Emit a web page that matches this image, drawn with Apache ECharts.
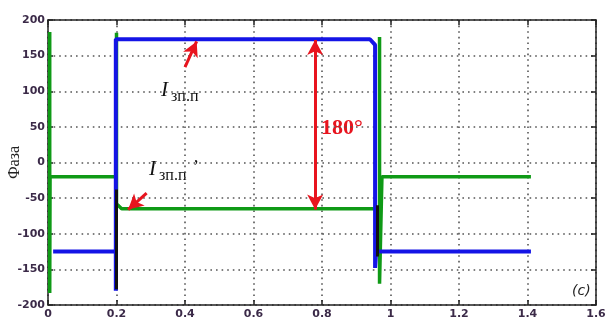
<!DOCTYPE html>
<html><head><meta charset="utf-8">
<script src="https://cdn.jsdelivr.net/npm/echarts@6/dist/echarts.min.js"></script>
<style>html,body{margin:0;padding:0;background:#fff}#c{width:608px;height:324px}</style>
</head><body><div id="c"></div>
<script>
// ---- data ----
var xTicks = ['0','0.2','0.4','0.6','0.8','1','1.2','1.4','1.6'];
var yTicks = ['-200','-150','-100','-50','0','50','100','150','200'];
// green phase (I'зп.п)
var greenT = [0.005, 0.005, 0.006, 0.2, 0.2, 0.2, 0.215, 0.968, 0.968, 0.968, 0.975, 1.41];
var greenV = [183, -183, -20, -20, 182, -58, -65, -65, 176, -170, -20, -20];
// blue phase (Iзп.п)
var blueT = [0.015, 0.198, 0.198, 0.198, 0.94, 0.955, 0.955, 0.958, 1.41];
var blueV = [-125, -125, -180, 173, 173, 165, -148, -125, -125];
// dark transient overlaps
var darkT = [0.2, 0.2, null, 0.962, 0.962];
var darkV = [-38, -178, null, -60, -132];

function pairs(t, v) { return t.map(function (x, i) { return x === null ? '-' : [x, v[i]]; }); }

var chart = echarts.init(document.getElementById('c'));
var tickFont = { fontFamily: 'DejaVu Sans', fontWeight: 'bold', fontSize: 11, color: '#3b2a48' };
var dotted = { show: true, lineStyle: { color: '#555', width: 1.6, type: [1.6, 4] } };
var red = '#e8141e';

chart.setOption({
  animation: false,
  backgroundColor: '#fff',
  grid: { left: 48, right: 12, top: 20, bottom: 19, containLabel: false, outerBoundsMode: 'none' },
  xAxis: [{
    type: 'value', min: 0, max: 1.6, interval: 0.2,
    axisLine: { onZero: false, lineStyle: { color: '#222', width: 1.5 } },
    axisTick: { inside: true, length: 5, lineStyle: { color: '#222', width: 1.5 } },
    axisLabel: Object.assign({ margin: 4, formatter: function (v) { return xTicks[Math.round(v / 0.2)]; } }, tickFont),
    splitLine: dotted
  }, {
    type: 'value', min: 0, max: 1.6, interval: 0.2, position: 'top',
    axisLine: { onZero: false, lineStyle: { color: '#222', width: 1.5 } },
    axisTick: { inside: true, length: 5, lineStyle: { color: '#222', width: 1.5 } },
    axisLabel: { show: false }, splitLine: { show: false }
  }],
  yAxis: [{
    type: 'value', min: -200, max: 200, interval: 50,
    name: 'Фаза', nameLocation: 'middle', nameGap: 25, nameRotate: 90, nameMoveOverlap: false,
    nameTextStyle: { fontFamily: 'Liberation Serif', fontSize: 16, color: '#222' },
    axisLine: { onZero: false, lineStyle: { color: '#222', width: 1.5 } },
    axisTick: { inside: true, length: 5, lineStyle: { color: '#222', width: 1.5 } },
    axisLabel: Object.assign({ margin: 3, formatter: function (v) { return yTicks[Math.round((v + 200) / 50)]; } }, tickFont),
    splitLine: dotted
  }, {
    type: 'value', min: -200, max: 200, interval: 50, position: 'right',
    axisLine: { onZero: false, lineStyle: { color: '#222', width: 1.5 } },
    axisTick: { inside: true, length: 5, lineStyle: { color: '#222', width: 1.5 } },
    axisLabel: { show: false }, splitLine: { show: false }
  }],
  series: [{
    type: 'line', name: "I'зп.п", data: pairs(greenT, greenV), showSymbol: false,
    lineStyle: { color: '#0f9a16', width: 3.5 }, z: 3
  }, {
    type: 'line', name: 'Iзп.п', data: pairs(blueT, blueV), showSymbol: false,
    lineStyle: { color: '#1414e6', width: 4 }, z: 4,
    markLine: {
      silent: true, symbolSize: [12, 15], label: { show: false },
      lineStyle: { color: red, width: 3, type: 'solid' },
      data: [
        [{ coord: [0.4, 134], symbol: 'none' }, { coord: [0.434, 170], symbol: 'arrow' }],
        [{ coord: [0.288, -43], symbol: 'none' }, { coord: [0.234, -66], symbol: 'arrow' }],
        [{ coord: [0.78, 172], symbol: 'arrow' }, { coord: [0.78, -66], symbol: 'arrow' }]
      ]
    }
  }, {
    type: 'line', name: 'transient', data: pairs(darkT, darkV), showSymbol: false, connectNulls: false,
    lineStyle: { color: '#111', width: 3 }, z: 5
  }],
  graphic: [
    { type: 'text', left: 161, top: 80, style: { text: 'I', font: 'italic 21px "Liberation Serif"', fill: '#111' } },
    { type: 'text', left: 171, top: 89, style: { text: 'зп.п', font: '16px "Liberation Serif"', fill: '#111' } },
    { type: 'text', left: 149, top: 159, style: { text: 'I', font: 'italic 21px "Liberation Serif"', fill: '#111' } },
    { type: 'text', left: 159, top: 168, style: { text: 'зп.п', font: '16px "Liberation Serif"', fill: '#111' } },
    { type: 'text', left: 193, top: 159, style: { text: '’', font: '18px "Liberation Serif"', fill: '#111' } },
    { type: 'text', left: 321, top: 117, style: { text: '180°', font: 'bold 22px "Liberation Serif"', fill: red } },
    { type: 'text', left: 572, top: 284, style: { text: '(c)', font: 'italic 14px "DejaVu Sans"', fill: '#222' } }
  ]
});
</script></body></html>
